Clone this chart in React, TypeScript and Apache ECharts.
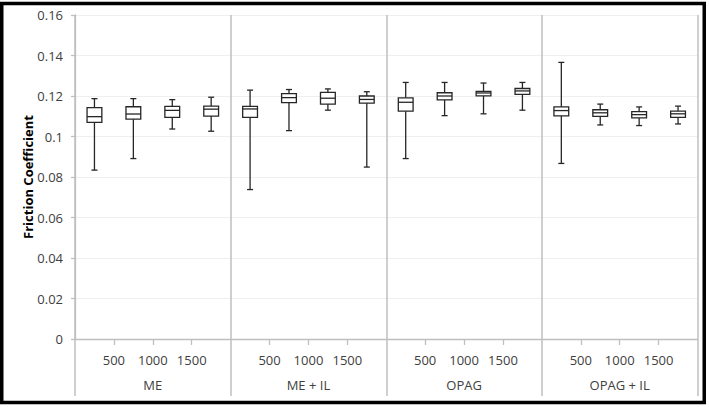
import React, { useEffect, useRef } from "react";
import * as echarts from "echarts";

const groups = ["ME", "ME + IL", "OPAG", "OPAG + IL"];
const subLabels = ["500", "1000", "1500"];
const yTicks = [0, 0.02, 0.04, 0.06, 0.08, 0.1, 0.12, 0.14, 0.16];

const whiskerHigh = [0.1187, 0.1187, 0.1182, 0.1194, 0.1229, 0.1232, 0.1235, 0.1221, 0.1267, 0.1267, 0.1264, 0.1267, 0.1366, 0.1160, 0.1146, 0.1150];
const q3 = [0.1143, 0.1147, 0.1149, 0.1150, 0.1149, 0.1212, 0.1218, 0.1200, 0.1191, 0.1216, 0.1223, 0.1237, 0.1146, 0.1132, 0.1123, 0.1125];
const median = [0.1098, 0.1111, 0.1129, 0.1135, 0.1136, 0.1192, 0.1189, 0.1183, 0.1169, 0.1200, 0.1215, 0.1225, 0.1128, 0.1117, 0.1108, 0.1112];
const q1 = [0.1070, 0.1086, 0.1094, 0.1101, 0.1094, 0.1167, 0.1160, 0.1165, 0.1125, 0.1181, 0.1201, 0.1208, 0.1102, 0.1099, 0.1092, 0.1094];
const whiskerLow = [0.0834, 0.0891, 0.1037, 0.1026, 0.0738, 0.1029, 0.1130, 0.0849, 0.0891, 0.1103, 0.1112, 0.1130, 0.0867, 0.1057, 0.1054, 0.1062];

export default function App() {
  const ref = useRef<HTMLDivElement>(null);
  useEffect(() => {
    if (!ref.current) return;
    const chart = echarts.init(ref.current, null, { renderer: "svg" });
    const n = median.length;
    const perGroup = n / groups.length;
    const data = median.map((m, i) => [i + 0.5, whiskerLow[i], q1[i], m, q3[i], whiskerHigh[i]]);
    const subTickValues: number[] = [];
    for (let g = 0; g < groups.length; g++) {
      for (let k = 1; k < perGroup; k++) subTickValues.push(g * perGroup + k);
    }
    const groupEdges = Array.from({ length: groups.length + 1 }, (_, g) => g * perGroup);
    const groupCenters = groups.map((_, g) => g * perGroup + perGroup / 2);
    const font = "'Open Sans', 'Noto Sans', sans-serif";
    const textColor = "#404040";
    const gray = "#bfbfbf";
    const boxColor = "#262626";

    chart.setOption({
      animation: false,
      backgroundColor: "#ffffff",
      grid: { left: 75, top: 15, right: 11.5, bottom: 68, containLabel: false },
      xAxis: [
        {
          type: "value",
          min: 0,
          max: n,
          interval: 1,
          position: "bottom",
          axisLine: { show: true, lineStyle: { color: gray, width: 1.3 } },
          axisTick: { show: true, customValues: subTickValues, length: 6, lineStyle: { color: gray, width: 1.3 } },
          axisLabel: {
            show: true,
            customValues: subTickValues,
            margin: 14,
            color: textColor,
            fontFamily: font,
            fontSize: 13,
            formatter: (v: number) => {
              const k = Math.round(v) % perGroup;
              return k > 0 ? subLabels[k - 1] : "";
            },
          },
          splitLine: { show: false },
        },
        {
          type: "value",
          min: 0,
          max: n,
          interval: perGroup,
          position: "bottom",
          axisLine: { show: false },
          axisTick: { show: true, customValues: groupEdges, length: 57, lineStyle: { color: gray, width: 1.5 } },
          axisLabel: {
            show: true,
            customValues: groupCenters,
            margin: 39,
            color: textColor,
            fontFamily: font,
            fontSize: 13,
            formatter: (v: number) => groups[Math.floor(v / perGroup)] ?? "",
          },
          splitLine: { show: true, lineStyle: { color: gray, width: 1.5 } },
        },
      ],
      yAxis: {
        type: "value",
        min: 0,
        max: 0.16,
        interval: 0.02,
        name: "Friction Coefficient",
        nameLocation: "middle",
        nameGap: 41,
        nameMoveOverlap: false,
        nameTextStyle: { fontFamily: font, fontSize: 13, fontWeight: "bold", color: "#000000" },
        axisLine: { show: true, lineStyle: { color: gray, width: 1.3 } },
        axisTick: { show: true, length: 4, lineStyle: { color: gray, width: 1.3 } },
        axisLabel: {
          margin: 12,
          color: textColor,
          fontFamily: font,
          fontSize: 13,
          formatter: (v: number) => {
            const t = yTicks.find((y) => Math.abs(y - v) < 1e-9);
            return String(t !== undefined ? t : v);
          },
        },
        splitLine: { show: true, lineStyle: { color: "#efefef", width: 1 } },
      },
      graphic: [
        {
          type: "rect",
          shape: { x: 1.75, y: 3.5, width: 702.5, height: 399 },
          style: { fill: "none", stroke: "#000000", lineWidth: 3.5 },
          z: 100,
        },
      ],
      series: [
        {
          type: "custom",
          xAxisIndex: 0,
          yAxisIndex: 0,
          data,
          encode: { x: 0, y: [1, 2, 3, 4, 5] },
          renderItem: (params: any, api: any) => {
            const x = api.value(0);
            const pLow = api.coord([x, api.value(1)]);
            const pQ1 = api.coord([x, api.value(2)]);
            const pMed = api.coord([x, api.value(3)]);
            const pQ3 = api.coord([x, api.value(4)]);
            const pHigh = api.coord([x, api.value(5)]);
            const unit = api.size([1, 0])[0];
            const halfW = unit * 0.19;
            const cap = 3;
            const cx = pMed[0];
            const st = { stroke: boxColor, lineWidth: 1.3, fill: "none" };
            return {
              type: "group",
              children: [
                { type: "line", shape: { x1: cx, y1: pHigh[1], x2: cx, y2: pQ3[1] }, style: st },
                { type: "line", shape: { x1: cx, y1: pQ1[1], x2: cx, y2: pLow[1] }, style: st },
                { type: "line", shape: { x1: cx - cap, y1: pHigh[1], x2: cx + cap, y2: pHigh[1] }, style: st },
                { type: "line", shape: { x1: cx - cap, y1: pLow[1], x2: cx + cap, y2: pLow[1] }, style: st },
                {
                  type: "rect",
                  shape: { x: cx - halfW, y: pQ3[1], width: halfW * 2, height: pQ1[1] - pQ3[1] },
                  style: { stroke: boxColor, lineWidth: 1.3, fill: "#ffffff" },
                },
                { type: "line", shape: { x1: cx - halfW, y1: pMed[1], x2: cx + halfW, y2: pMed[1] }, style: st },
              ],
            };
          },
        },
      ],
    });
    return () => chart.dispose();
  }, []);
  return (
    <div
      ref={ref}
      style={{ position: "fixed", left: 0, top: 0, width: 709, height: 407, background: "#fff" }}
    />
  );
}
